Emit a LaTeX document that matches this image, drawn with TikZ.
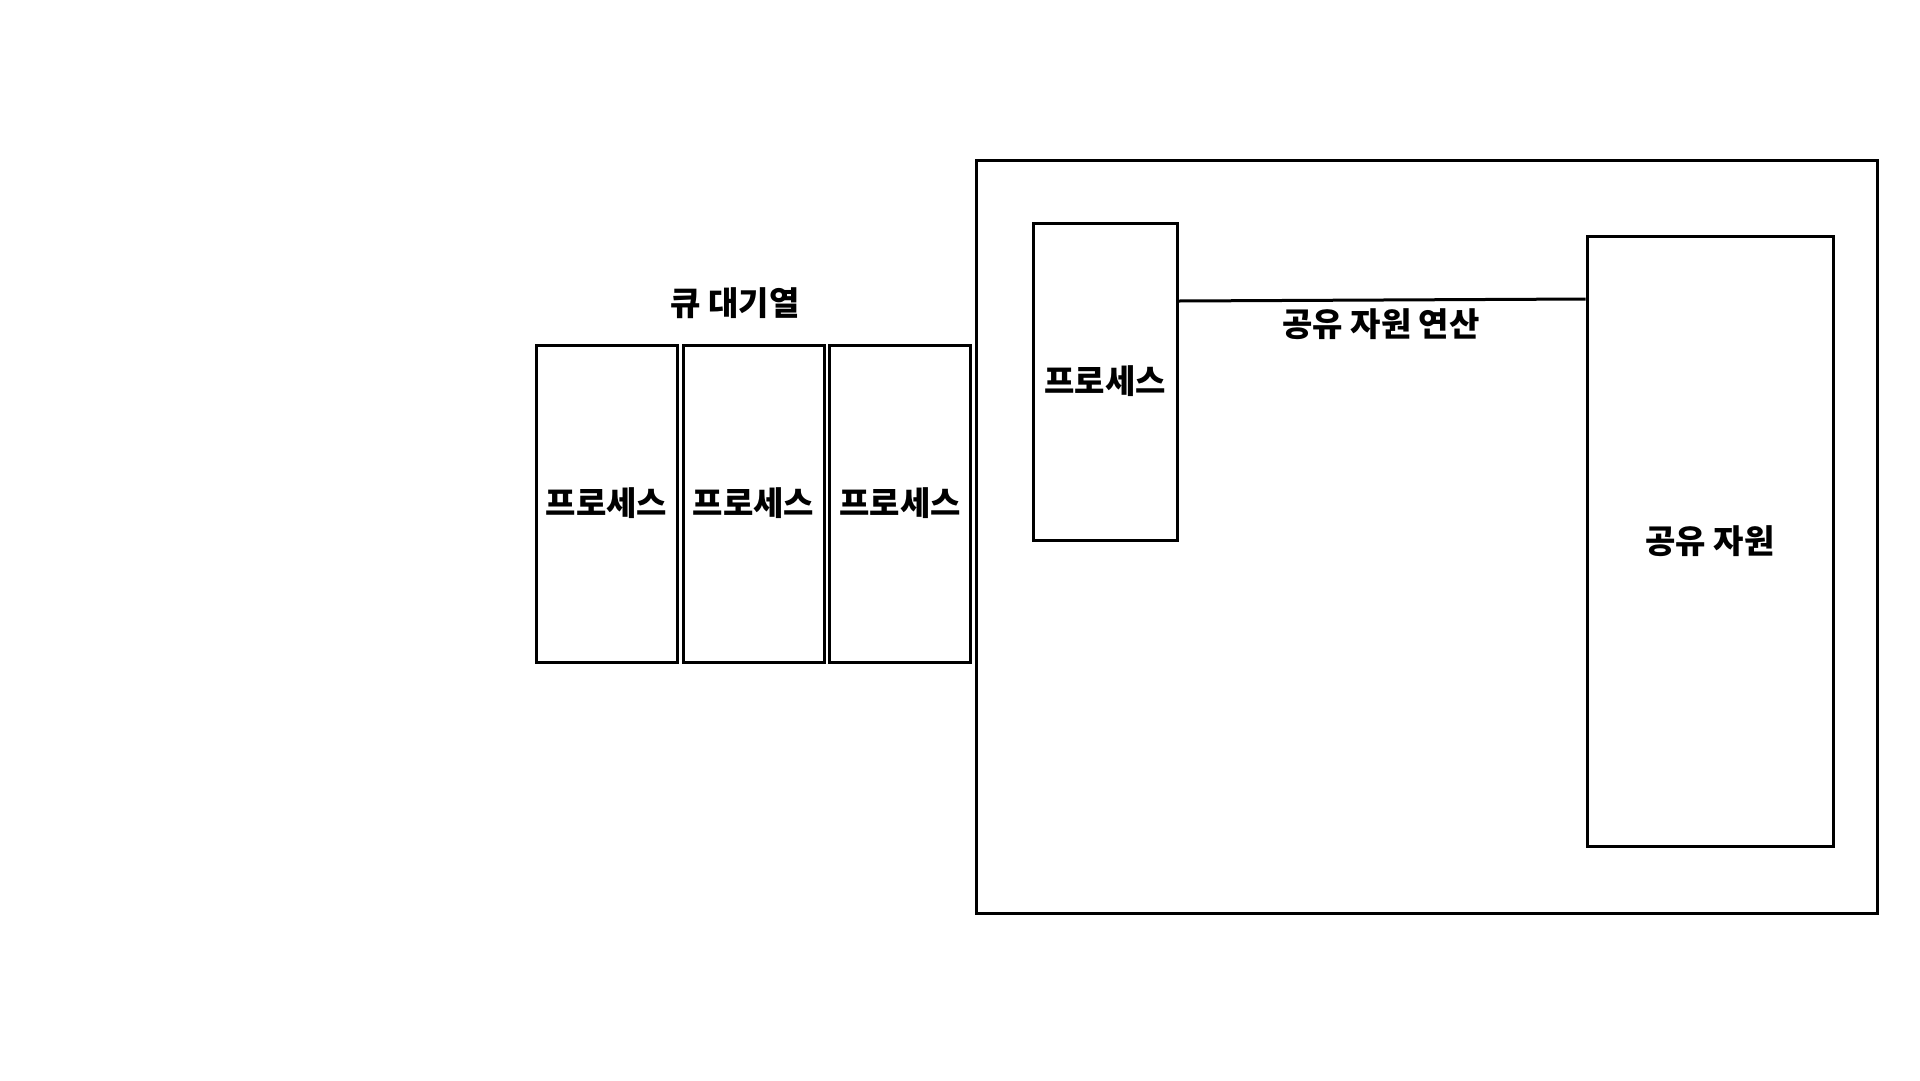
\documentclass[tikz,border=0pt]{standalone}
\usepackage{fontspec}
\setmainfont{Noto Sans CJK KR}
\tikzset{
  box/.style={draw=black, line width=3pt, rectangle, inner sep=0pt, fill=none},
  lbl/.style={font=\fontsize{33pt}{35pt}\selectfont\bfseries, inner sep=0pt},
}
\begin{document}
\begin{tikzpicture}[x=1pt,y=-1pt]
\useasboundingbox[fill=white] (0,0) rectangle (1920,1080);
% outer system box
\node[box, minimum width=901pt, minimum height=753pt] (sys) at (1426.5,536.5) {};
% queue processes
\node[box, minimum width=141pt, minimum height=317pt] (q1) at (606.5,503.5) {};
\node[box, minimum width=141pt, minimum height=317pt] (q2) at (753.5,503.5) {};
\node[box, minimum width=141pt, minimum height=317pt] (q3) at (900,503.5) {};
\node[lbl] at (q1) {프로세스};
\node[lbl] at (q2) {프로세스};
\node[lbl] at (q3) {프로세스};
\node[lbl] (qlabel) at (735,303) {큐 대기열};
% running process
\node[box, minimum width=144pt, minimum height=317pt] (proc) at (1105,381.5) {};
\node[lbl] at (proc) {프로세스};
% shared resource
\node[box, minimum width=246pt, minimum height=610pt] (res) at (1710,541) {};
\node[lbl] at (res) {공유 자원};
% connector
\coordinate (lineL) at (0,301);
\coordinate (lineR) at (0,299);
\draw[line width=3pt] (proc.east |- lineL) -- (res.west |- lineR);
\node[lbl] (oplabel) at (1381,324) {공유 자원 연산};
\end{tikzpicture}
\end{document}
